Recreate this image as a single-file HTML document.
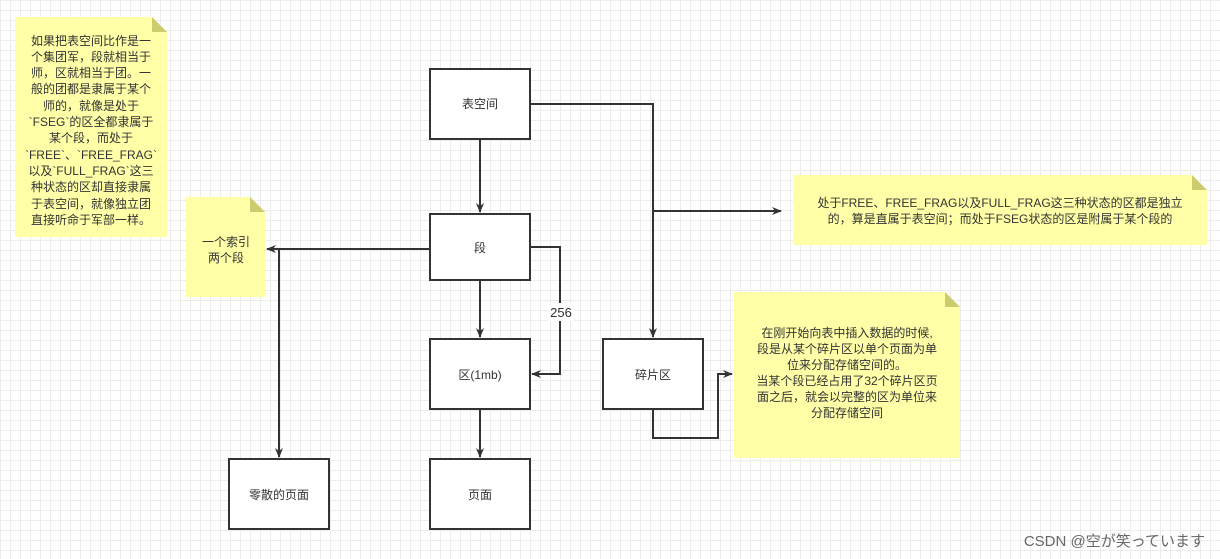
<!DOCTYPE html>
<html><head><meta charset="utf-8"><style>
html,body{margin:0;padding:0;}
body{width:1220px;height:559px;overflow:hidden;background:#fff;
background-image:linear-gradient(#ececec 1px,transparent 1px),linear-gradient(90deg,#ececec 1px,transparent 1px);
background-size:10px 10px;font-family:"Liberation Sans","Noto Sans CJK SC",sans-serif;}
svg{position:absolute;left:0;top:0;}
</style></head><body>
<svg width="1220" height="559" xmlns="http://www.w3.org/2000/svg" font-family="Liberation Sans, Noto Sans CJK SC, sans-serif" font-size="12" fill="#333">
<defs><marker id="a" markerWidth="10" markerHeight="10" refX="9" refY="5" orient="auto" markerUnits="userSpaceOnUse"><path d="M0,1 L10,5 L0,9 L3,5 Z" fill="#333"/></marker></defs>
<!-- notes -->
<path d="M15,17 H152 L167,32 V237 H15 Z" fill="#ffffa8"/><path d="M152,17 V32 H167 Z" fill="#cccc6e"/>
<path d="M186,197 H250 L265,212 V297 H186 Z" fill="#ffffa8"/><path d="M250,197 V212 H265 Z" fill="#cccc6e"/>
<path d="M793,175 H1192 L1207,190 V245 H793 Z" fill="#ffffa8"/><path d="M1192,175 V190 H1207 Z" fill="#cccc6e"/>
<path d="M734,292 H945 L960,307 V458 H734 Z" fill="#ffffa8"/><path d="M945,292 V307 H960 Z" fill="#cccc6e"/>
<g text-anchor="middle" font-size="12">
<text x="91" y="45">如果把表空间比作是一</text><text x="91" y="61">个集团军，段就相当于</text><text x="91" y="77">师，区就相当于团。一</text><text x="91" y="93">般的团都是隶属于某个</text><text x="91" y="110">师的，就像是处于</text><text x="91" y="126">`FSEG`的区全都隶属于</text><text x="91" y="142">某个段，而处于</text><text x="91" y="159">`FREE`、`FREE_FRAG`</text><text x="91" y="175">以及`FULL_FRAG`这三</text><text x="91" y="191">种状态的区却直接隶属</text><text x="91" y="208">于表空间，就像独立团</text><text x="91" y="224">直接听命于军部一样。</text>
<text x="226" y="246">一个索引</text><text x="226" y="262">两个段</text>
<text x="1000" y="207">处于FREE、FREE_FRAG以及FULL_FRAG这三种状态的区都是独立</text><text x="1000" y="223">的，算是直属于表空间；而处于FSEG状态的区是附属于某个段的</text>
<text x="847" y="337">在刚开始向表中插入数据的时候,</text><text x="847" y="353">段是从某个碎片区以单个页面为单</text><text x="847" y="369">位来分配存储空间的。</text><text x="847" y="385">当某个段已经占用了32个碎片区页</text><text x="847" y="401">面之后，就会以完整的区为单位来</text><text x="847" y="417">分配存储空间</text>
</g>
<!-- connectors -->
<g stroke="#333" stroke-width="2" fill="none">
<path d="M480,139 V212" marker-end="url(#a)"/>
<path d="M530,104 H653 V337" marker-end="url(#a)"/>
<path d="M653,211 H781" marker-end="url(#a)"/>
<path d="M430,249 H267" marker-end="url(#a)"/>
<path d="M279,249 V457" marker-end="url(#a)"/>
<path d="M480,280 V337" marker-end="url(#a)"/>
<path d="M530,247 H560 V374 H532" marker-end="url(#a)"/>
<path d="M480,409 V457" marker-end="url(#a)"/>
<path d="M653,409 V438 H718 V374 H732" marker-end="url(#a)"/>
</g>
<rect x="548" y="303" width="26" height="18" fill="#fff"/>
<text x="561" y="317" text-anchor="middle" font-size="13">256</text>
<!-- boxes -->
<g stroke="#333" stroke-width="2" fill="#fff">
<rect x="430" y="69" width="100" height="70"/>
<rect x="430" y="214" width="100" height="66"/>
<rect x="430" y="339" width="100" height="70"/>
<rect x="430" y="459" width="100" height="70"/>
<rect x="229" y="459" width="100" height="70"/>
<rect x="603" y="339" width="100" height="70"/>
</g>
<g text-anchor="middle" font-size="12">
<text x="480" y="108">表空间</text><text x="480" y="252">段</text><text x="480" y="379">区(1mb)</text>
<text x="480" y="499">页面</text><text x="279" y="499">零散的页面</text><text x="653" y="379">碎片区</text>
</g>
<text x="1205" y="546" text-anchor="end" font-size="15" fill="#666">CSDN @空が笑っています</text>
</svg>
</body></html>
